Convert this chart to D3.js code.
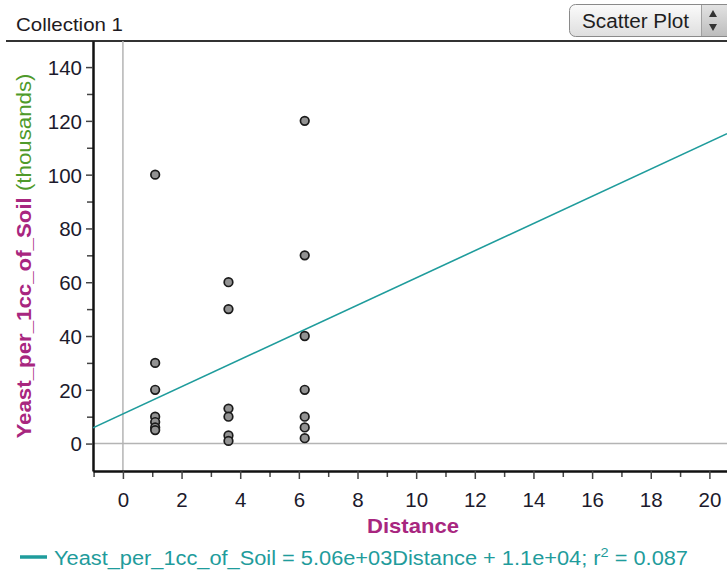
<!DOCTYPE html>
<html>
<head>
<meta charset="utf-8">
<script src="https://cdn.jsdelivr.net/npm/d3@7"></script>
<style>
  body { margin: 0; background: #fff; }
  svg { display: block; font-family: "Liberation Sans", Arial, sans-serif; }
</style>
</head>
<body>
<div class="chart"></div>
<script>
// Data (yeast counts in thousands per 1cc of soil)
var distance = [1.1, 1.1, 1.1, 1.1, 1.1, 1.1, 1.1,
                3.6, 3.6, 3.6, 3.6, 3.6, 3.6,
                6.2, 6.2, 6.2, 6.2, 6.2, 6.2, 6.2];
var yeast = [100, 30, 20, 10, 8, 6, 5,
             60, 50, 13, 10, 3, 1,
             120, 70, 40, 20, 10, 6, 2];

// least squares line as reported by the graph (thousands)
var fitSlope = 5.06;
var fitIntercept = 11;

var xMajorTicks = [0, 2, 4, 6, 8, 10, 12, 14, 16, 18, 20];
var xMinorTicks = [-1, 1, 3, 5, 7, 9, 11, 13, 15, 17, 19];
var yMajorTicks = [0, 20, 40, 60, 80, 100, 120, 140];
var yMinorTicks = [10, 30, 50, 70, 90, 110, 130];

var collectionName = "Collection 1";
var plotType = "Scatter Plot";
var xName = "Distance";
var yName = "Yeast_per_1cc_of_Soil";
var yUnit = " (thousands)";

// Chart parameters
var svgWidth = 727;
var svgHeight = 578;
var plot = { left: 93, right: 727, top: 41, bottom: 471 };

var magenta = "#a8267f";
var green = "#4f9a2a";
var teal = "#1f9c9c";
var refGray = "#b4b4b4";

var svg = d3.select(".chart")
  .append("svg")
  .attr("width", svgWidth)
  .attr("height", svgHeight);

// scales
var x = d3.scaleLinear().domain([-1.02, 20.6]).range([plot.left, plot.right]);
var y = d3.scaleLinear().domain([-10.2, 149.7]).range([plot.bottom, plot.top]);

// header
svg.append("text")
  .attr("x", 16)
  .attr("y", 31)
  .attr("font-size", 19)
  .attr("fill", "#1e1a22")
  .attr("textLength", 107)
  .attr("lengthAdjust", "spacingAndGlyphs")
  .text(collectionName);

svg.append("line")
  .attr("x1", 6).attr("x2", svgWidth)
  .attr("y1", 41).attr("y2", 41)
  .attr("stroke", "#333").attr("stroke-width", 2);

// plot type button
var defs = svg.append("defs");
var grad = defs.append("linearGradient").attr("id", "btn").attr("x1", 0).attr("x2", 0).attr("y1", 0).attr("y2", 1);
grad.append("stop").attr("offset", "0%").attr("stop-color", "#fbfbfb");
grad.append("stop").attr("offset", "100%").attr("stop-color", "#dedede");
var grad2 = defs.append("linearGradient").attr("id", "btn2").attr("x1", 0).attr("x2", 0).attr("y1", 0).attr("y2", 1);
grad2.append("stop").attr("offset", "0%").attr("stop-color", "#e2e2e2");
grad2.append("stop").attr("offset", "100%").attr("stop-color", "#bdbdbd");

var button = svg.append("g");
button.append("rect")
  .attr("x", 569.5).attr("y", 4.5)
  .attr("width", 170).attr("height", 32)
  .attr("rx", 6)
  .attr("fill", "url(#btn)")
  .attr("stroke", "#8a8a8a");
button.append("rect")
  .attr("x", 702).attr("y", 5)
  .attr("width", 30).attr("height", 31)
  .attr("fill", "url(#btn2)");
button.append("line")
  .attr("x1", 701.5).attr("x2", 701.5)
  .attr("y1", 5).attr("y2", 36)
  .attr("stroke", "#a0a0a0");
button.append("path")
  .attr("d", "M709,17 L713,10 L717,17 Z M709,24 L717,24 L713,31 Z")
  .attr("fill", "#333");
button.append("text")
  .attr("x", 582)
  .attr("y", 28)
  .attr("font-size", 19.5)
  .attr("fill", "#1e1e1e")
  .attr("textLength", 107)
  .attr("lengthAdjust", "spacingAndGlyphs")
  .text(plotType);

// reference lines at x = 0 and y = 0
svg.append("line")
  .attr("x1", x(0)).attr("x2", x(0))
  .attr("y1", plot.top).attr("y2", plot.bottom)
  .attr("stroke", refGray).attr("stroke-width", 1.5);
svg.append("line")
  .attr("x1", plot.left).attr("x2", plot.right)
  .attr("y1", y(0)).attr("y2", y(0))
  .attr("stroke", refGray).attr("stroke-width", 1.5);

// axes
var xAxisMinor = svg.append("g")
  .attr("transform", `translate(0,${plot.bottom})`)
  .call(d3.axisBottom(x).tickValues(xMinorTicks).tickSize(6).tickFormat(""));
var xAxis = svg.append("g")
  .attr("transform", `translate(0,${plot.bottom})`)
  .call(d3.axisBottom(x).tickValues(xMajorTicks).tickSizeInner(8).tickSizeOuter(0).tickPadding(13));

var yAxisMinor = svg.append("g")
  .attr("transform", `translate(${plot.left},0)`)
  .call(d3.axisLeft(y).tickValues(yMinorTicks).tickSize(6).tickFormat(""));
var yAxis = svg.append("g")
  .attr("transform", `translate(${plot.left},0)`)
  .call(d3.axisLeft(y).tickValues(yMajorTicks).tickSizeInner(7).tickSizeOuter(0).tickPadding(4));

xAxisMinor.select(".domain").remove();
yAxisMinor.select(".domain").remove();
svg.selectAll(".tick line").attr("stroke", "#444").attr("stroke-width", 1.5);
[xAxis, yAxis].forEach(function(a) {
  a.select(".domain").attr("stroke", "#111").attr("stroke-width", 2.5);
  a.selectAll(".tick text")
    .attr("font-size", 20.5)
    .attr("font-family", "Liberation Sans, Arial, sans-serif")
    .attr("fill", "#1c1a2c");
});
yAxis.selectAll(".tick text").attr("dy", "0.36em");

// clip for the fitted line
defs.append("clipPath").attr("id", "plotClip")
  .append("rect")
  .attr("x", plot.left).attr("y", plot.top)
  .attr("width", plot.right - plot.left).attr("height", plot.bottom - plot.top);

var xDom = x.domain();
svg.append("line")
  .attr("clip-path", "url(#plotClip)")
  .attr("x1", x(xDom[0])).attr("y1", y(fitIntercept + fitSlope * xDom[0]))
  .attr("x2", x(xDom[1])).attr("y2", y(fitIntercept + fitSlope * xDom[1]))
  .attr("stroke", teal)
  .attr("stroke-width", 1.6);

// Appending circles to the Chart
var points = distance.map(function(d, i) { return { distance: d, yeast: yeast[i] }; });
svg.selectAll("circle.pt").data(points).enter().append("circle")
  .attr("class", "pt")
  .attr("cx", d => x(d.distance))
  .attr("cy", d => y(d.yeast))
  .attr("r", 4.3)
  .attr("fill", "#929292")
  .attr("stroke", "#1a1a1a")
  .attr("stroke-width", 1.7);

// x axis title
svg.append("text")
  .attr("x", 413)
  .attr("y", 533)
  .attr("text-anchor", "middle")
  .attr("font-size", 20.5)
  .attr("font-weight", "bold")
  .attr("fill", magenta)
  .attr("textLength", 92)
  .attr("lengthAdjust", "spacingAndGlyphs")
  .text(xName);

// y axis title
var yTitle = svg.append("text")
  .attr("transform", `translate(31,${(plot.top + plot.bottom) / 2}) rotate(-90)`)
  .attr("text-anchor", "middle")
  .attr("font-size", 21)
  .attr("textLength", 365)
  .attr("lengthAdjust", "spacingAndGlyphs");
yTitle.append("tspan")
  .attr("font-weight", "bold")
  .attr("fill", magenta)
  .text(yName);
yTitle.append("tspan")
  .attr("fill", green)
  .text(yUnit);

// equation of the least squares line
svg.append("line")
  .attr("x1", 20).attr("x2", 47)
  .attr("y1", 557).attr("y2", 557)
  .attr("stroke", teal).attr("stroke-width", 3.5);

var fmt = d3.format(".2e");
var eq = svg.append("text")
  .attr("x", 54)
  .attr("y", 565)
  .attr("font-size", 19.5)
  .attr("fill", teal)
  .attr("textLength", 634)
  .attr("lengthAdjust", "spacingAndGlyphs");
eq.append("tspan").text(yName + " = " + fmt(fitSlope * 1000).replace("e+3", "e+03") + xName + " + 1.1e+04; r");
eq.append("tspan").attr("dy", -8).attr("font-size", 13).text("2");
eq.append("tspan").attr("dy", 8).text(" = 0.087");
</script>
</body>
</html>
